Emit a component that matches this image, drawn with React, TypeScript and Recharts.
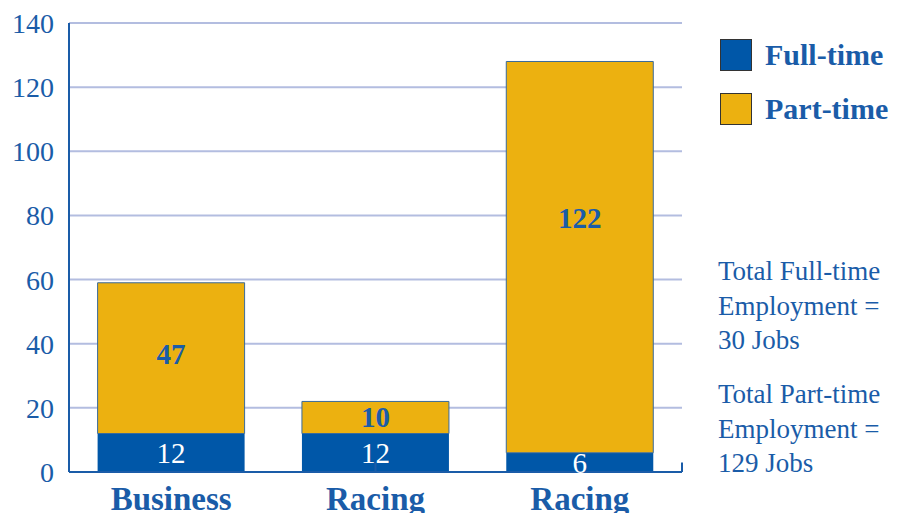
import React from 'react';
import { BarChart, Bar, XAxis, YAxis, CartesianGrid, LabelList, ReferenceLine } from 'recharts';

const categories = ['Business', 'Racing', 'Racing'];
const fullTime = [12, 12, 6];
const partTime = [47, 10, 122];
const yTicks = [0, 20, 40, 60, 80, 100, 120, 140];
const bandEdges = [1, 2, 3];
const legendItems = ['Full-time', 'Part-time'];
const notes = [
    ['Total Full-time', 'Employment =', '30 Jobs'],
    ['Total Part-time', 'Employment =', '129 Jobs'],
];

const BLUE = '#0057a8';
const GOLD = '#ecb110';
const TEXT = '#1a5ca8';
const GRID = '#b3bde0';
const FONT = '"Liberation Serif", "DejaVu Serif", serif';

const data = categories.map((name, i) => ({
    name,
    full: fullTime[i],
    part: partTime[i],
}));

// part-time labels sit a bit above the middle of their segment (more so on tall bars)
const PartLabel = (props: any) => {
    const { x, y, width, height, value } = props;
    const ratio = height > 300 ? 0.4 : 0.47;
    return (
        <text
            x={x + width / 2}
            y={y + height * ratio}
            textAnchor="middle"
            dominantBaseline="central"
            fill={TEXT}
            style={{ fontSize: 29, fontFamily: FONT, fontWeight: 'bold' }}
        >
            {value}
        </text>
    );
};

export default function App() {
    return (
        <div style={{ position: 'absolute', left: 0, top: 0, width: 902, height: 513, background: '#fff', overflow: 'hidden' }}>
            <BarChart
                width={902}
                height={513}
                data={data}
                margin={{ top: 23, right: 220, left: 0, bottom: 0 }}
                barCategoryGap="14%"
            >
                <CartesianGrid vertical={false} stroke={GRID} strokeWidth={2} xAxisId="cat" />
                <XAxis
                    xAxisId="cat"
                    dataKey="name"
                    height={41}
                    axisLine={{ stroke: TEXT, strokeWidth: 2 }}
                    tickLine={false}
                    interval={0}
                    tick={{ fill: TEXT, fontSize: 33, fontWeight: 'bold', fontFamily: FONT, dy: 7 }}
                />
                <XAxis xAxisId="edges" type="number" domain={[0, 3]} hide />
                <YAxis
                    width={69}
                    domain={[0, 140]}
                    ticks={yTicks}
                    axisLine={{ stroke: TEXT, strokeWidth: 2 }}
                    tickLine={false}
                    tickMargin={9}
                    tick={{ fill: TEXT, fontSize: 28, fontFamily: FONT }}
                />
                <Bar xAxisId="cat" dataKey="full" stackId="a" fill={BLUE} isAnimationActive={false}>
                    <LabelList
                        dataKey="full"
                        position="center"
                        fill="#ffffff"
                        style={{ fontSize: 29, fontFamily: FONT }}
                    />
                </Bar>
                <Bar xAxisId="cat" dataKey="part" stackId="a" fill={GOLD} stroke="#3a6a9a" strokeWidth={1} isAnimationActive={false}>
                    <LabelList dataKey="part" content={PartLabel} />
                </Bar>
                {bandEdges.map((e) => (
                    <ReferenceLine
                        key={e}
                        xAxisId="edges"
                        segment={[{ x: e, y: 0 }, { x: e, y: 3 }]}
                        stroke={TEXT}
                        strokeWidth={2}
                        ifOverflow="visible"
                    />
                ))}
            </BarChart>
            <div style={{ position: 'absolute', left: 720, top: 38, fontFamily: FONT }}>
                {legendItems.map((label, i) => (
                    <div key={label} style={{ display: 'flex', alignItems: 'center', height: 33, marginBottom: 21 }}>
                        <div
                            style={{
                                width: 30,
                                height: 30,
                                background: i === 0 ? BLUE : GOLD,
                                border: '1.5px solid #333',
                                marginRight: 13,
                                flexShrink: 0,
                            }}
                        />
                        <span style={{ color: TEXT, fontWeight: 'bold', fontSize: 30, whiteSpace: 'nowrap' }}>{label}</span>
                    </div>
                ))}
            </div>
            {notes.map((lines, i) => (
                <div
                    key={i}
                    style={{
                        position: 'absolute',
                        left: 718,
                        top: 254 + i * 123,
                        fontFamily: FONT,
                        fontSize: 27,
                        lineHeight: '34.5px',
                        color: TEXT,
                        whiteSpace: 'nowrap',
                    }}
                >
                    {lines.map((l) => (
                        <div key={l}>{l}</div>
                    ))}
                </div>
            ))}
        </div>
    );
}
